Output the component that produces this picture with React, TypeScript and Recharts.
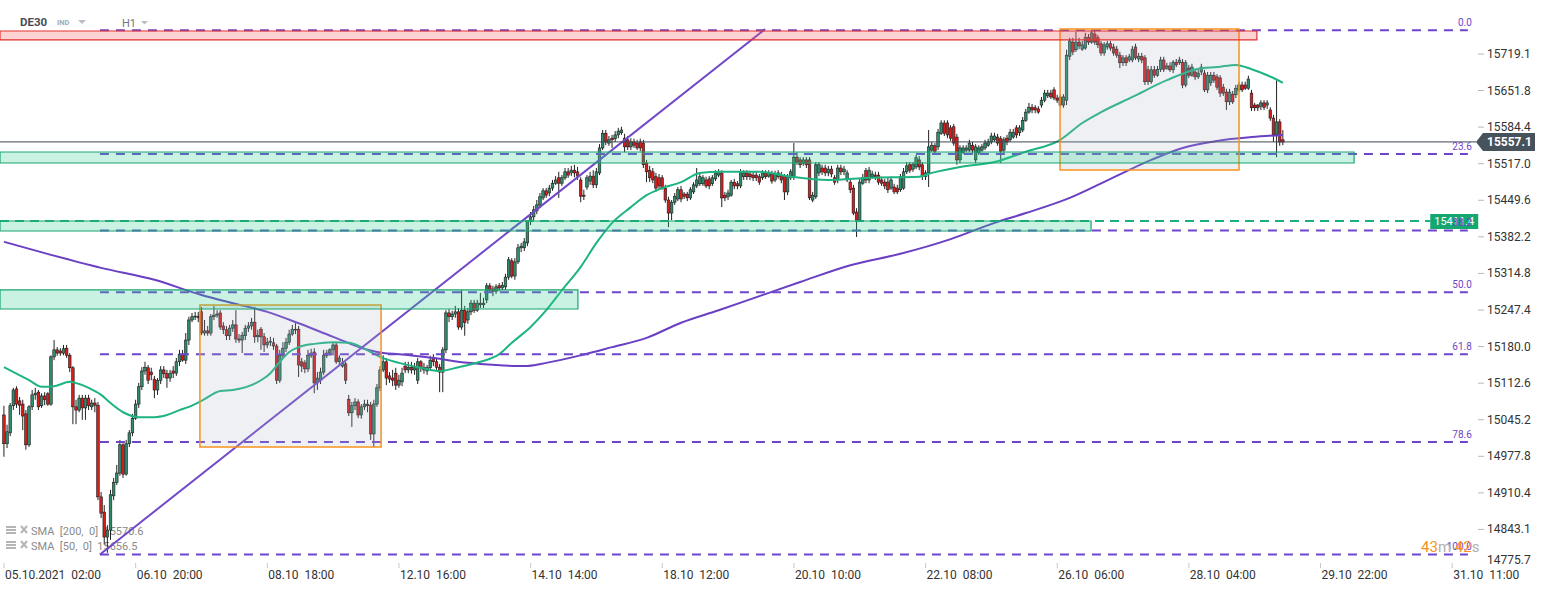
import React from 'react';
import { ComposedChart, Bar, Line, XAxis, YAxis, ReferenceLine, ReferenceArea } from 'recharts';

// ---------- candle data (hourly bars, DE30) ----------
const opens = [
15054,15001,15021,15071,15102,15080,15074,15056,14999,15069,15091,15096,15071,15089,15093,15074,15161,15174,15172,15168,
15177,15164,15141,15069,15063,15085,15067,15085,15069,15076,15072,14903,14875,14829,14842,14905,14930,14947,14999,14945,
15001,15021,15048,15074,15106,15135,15141,15133,15120,15100,15118,15137,15130,15122,15135,15131,15152,15166,15155,15192,
15229,15235,15236,15244,15205,15209,15205,15235,15238,15242,15218,15211,15200,15214,15220,15194,15192,15200,15214,15218,
15225,15198,15212,15198,15183,15188,15187,15181,15118,15164,15177,15188,15203,15212,15212,15152,15150,15139,15164,15170,
15113,15118,15133,15164,15168,15174,15183,15152,15144,15148,15083,15058,15071,15078,15054,15069,15074,15072,15019,15074,
15104,15137,15152,15126,15122,15131,15109,15115,15144,15137,15142,15137,15118,15152,15142,15135,15141,15159,15152,15142,
15133,15174,15242,15235,15240,15244,15216,15247,15229,15244,15260,15247,15260,15257,15266,15292,15286,15282,15292,15288,
15290,15308,15338,15310,15336,15362,15362,15371,15410,15419,15430,15441,15454,15467,15463,15472,15481,15491,15481,15491,
15502,15500,15505,15502,15487,15459,15474,15485,15494,15478,15500,15546,15573,15555,15564,15563,15570,15574,15564,15561,
15548,15557,15555,15557,15555,15518,15505,15502,15493,15491,15491,15472,15450,15426,15446,15452,15469,15461,15461,15454,
15465,15476,15480,15480,15487,15489,15480,15489,15496,15500,15459,15456,15459,15483,15480,15476,15493,15500,15498,15496,
15496,15493,15491,15500,15494,15498,15487,15493,15496,15493,15465,15491,15493,15529,15524,15518,15524,15524,15450,15456,
15500,15509,15509,15500,15507,15491,15487,15509,15502,15487,15483,15472,15428,15413,15481,15504,15487,15493,15496,15496,
15487,15483,15483,15472,15474,15472,15469,15472,15502,15515,15507,15511,15524,15515,15493,15500,15542,15550,15548,15573,
15592,15592,15583,15585,15566,15524,15538,15542,15542,15551,15524,15537,15542,15546,15551,15557,15561,15566,15563,15542,
15564,15561,15566,15583,15574,15579,15597,15612,15621,15620,15618,15625,15634,15642,15647,15653,15638,15640,15625,15634,
15715,15741,15727,15741,15728,15730,15750,15741,15756,15749,15738,15721,15732,15738,15732,15728,15717,15703,15712,15708,
15708,15732,15710,15715,15712,15690,15668,15690,15680,15691,15708,15693,15697,15690,15704,15703,15704,15662,15693,15680,
15686,15677,15686,15684,15653,15666,15680,15677,15675,15658,15649,15631,15645,15644,15653,15662,15662,15656,15647,15625,
15625,15623,15629,15625,15616,15601,15570,15594,15561
];
const highs = [
15071,15036,15076,15104,15107,15087,15082,15063,15072,15100,15104,15100,15094,15096,15096,15164,15192,15179,15177,15183,
15183,15168,15144,15082,15091,15091,15091,15091,15082,15085,15078,14912,14888,14851,14916,14938,14962,15008,15002,15008,
15026,15056,15082,15113,15142,15152,15146,15141,15126,15122,15144,15144,15137,15137,15144,15159,15174,15174,15205,15235,
15242,15244,15244,15253,15229,15218,15240,15255,15247,15247,15225,15218,15220,15229,15247,15203,15207,15220,15225,15233,
15253,15211,15216,15205,15196,15198,15196,15185,15174,15188,15196,15211,15220,15224,15218,15159,15155,15174,15176,15177,
15133,15141,15174,15174,15177,15188,15188,15164,15159,15152,15091,15078,15085,15083,15074,15082,15082,15078,15082,15111,
15144,15164,15159,15133,15137,15141,15128,15141,15152,15152,15152,15150,15159,15155,15150,15146,15163,15166,15159,15148,
15179,15247,15249,15246,15255,15251,15284,15255,15251,15266,15266,15266,15279,15270,15297,15297,15292,15295,15297,15299,
15314,15345,15343,15343,15369,15371,15380,15413,15428,15439,15450,15463,15472,15472,15478,15487,15494,15502,15496,15509,
15509,15513,15515,15511,15492,15469,15496,15502,15505,15509,15553,15579,15579,15568,15570,15577,15583,15585,15572,15568,
15564,15563,15561,15563,15561,15524,15513,15509,15500,15498,15496,15478,15456,15450,15463,15474,15476,15465,15465,15474,
15483,15509,15498,15496,15493,15494,15496,15505,15507,15505,15465,15469,15487,15489,15485,15507,15505,15505,15504,15502,
15502,15498,15505,15505,15505,15504,15504,15505,15502,15498,15498,15507,15555,15538,15529,15529,15529,15529,15465,15520,
15520,15515,15515,15513,15513,15496,15515,15515,15513,15505,15489,15478,15435,15491,15498,15509,15511,15504,15502,15502,
15493,15489,15491,15493,15480,15478,15498,15509,15520,15520,15520,15533,15531,15520,15505,15579,15557,15555,15581,15597,
15597,15597,15588,15590,15572,15551,15551,15551,15561,15557,15553,15551,15553,15561,15563,15574,15574,15572,15568,15566,
15570,15581,15581,15588,15588,15603,15618,15629,15627,15625,15623,15640,15653,15653,15653,15658,15644,15645,15645,15727,
15749,15749,15760,15749,15743,15758,15756,15763,15763,15754,15743,15741,15743,15743,15738,15734,15723,15717,15717,15719,
15734,15738,15721,15721,15717,15697,15697,15697,15697,15714,15714,15703,15704,15708,15710,15714,15710,15708,15699,15701,
15691,15690,15701,15690,15686,15686,15686,15682,15680,15664,15655,15655,15651,15662,15668,15668,15668,15679,15653,15629,
15627,15634,15634,15634,15621,15607,15671,15599,15579
];
const lows = [
14977,14993,15015,15063,15067,15054,15026,14990,14995,15063,15082,15063,15067,15072,15071,15071,15155,15163,15163,15164,
15159,15133,15037,15037,15059,15045,15045,15063,15063,15059,14897,14864,14815,14800,14824,14897,14925,14942,14938,14942,
14995,15015,15045,15067,15100,15128,15111,15118,15085,15091,15111,15122,15104,15115,15122,15126,15144,15152,15148,15183,
15225,15229,15225,15201,15200,15200,15200,15229,15233,15211,15203,15192,15192,15207,15187,15187,15168,15192,15207,15211,
15187,15188,15174,15170,15177,15181,15174,15111,15113,15159,15170,15183,15200,15203,15124,15133,15131,15133,15159,15094,
15100,15111,15128,15159,15163,15164,15148,15144,15141,15111,15052,15032,15063,15048,15047,15063,15059,15008,14995,15069,
15098,15133,15109,15113,15107,15100,15104,15107,15131,15131,15130,15128,15111,15133,15130,15128,15137,15144,15137,15096,
15096,15168,15225,15229,15233,15211,15211,15200,15222,15238,15242,15244,15251,15251,15260,15279,15273,15277,15282,15284,
15284,15303,15306,15303,15332,15354,15356,15365,15404,15413,15424,15435,15450,15454,15457,15467,15478,15454,15476,15487,
15491,15494,15492,15487,15446,15450,15469,15478,15472,15472,15496,15542,15551,15550,15546,15557,15564,15570,15538,15542,
15542,15546,15542,15540,15509,15483,15483,15481,15465,15469,15469,15445,15400,15413,15441,15448,15446,15452,15448,15450,
15461,15472,15476,15476,15472,15470,15476,15485,15492,15437,15448,15450,15456,15470,15470,15472,15487,15487,15487,15485,
15485,15478,15487,15489,15491,15480,15483,15489,15481,15450,15459,15487,15487,15515,15509,15513,15509,15450,15446,15452,
15494,15496,15494,15494,15492,15478,15481,15496,15496,15483,15463,15422,15382,15410,15478,15481,15481,15489,15487,15478,
15476,15470,15463,15469,15461,15461,15465,15469,15498,15500,15502,15507,15505,15487,15487,15474,15539,15535,15542,15570,
15568,15564,15559,15550,15515,15518,15535,15539,15539,15537,15518,15533,15539,15542,15548,15553,15557,15550,15518,15537,
15551,15557,15563,15564,15568,15575,15594,15609,15610,15610,15609,15620,15630,15638,15636,15634,15629,15621,15620,15625,
15708,15717,15723,15728,15725,15727,15736,15738,15736,15730,15716,15716,15727,15725,15716,15712,15693,15697,15697,15704,
15704,15708,15704,15702,15662,15662,15664,15675,15677,15686,15686,15690,15686,15684,15695,15699,15656,15658,15675,15677,
15671,15673,15680,15649,15647,15660,15666,15653,15640,15642,15616,15625,15627,15638,15649,15649,15653,15653,15614,15614,
15614,15616,15616,15618,15596,15557,15529,15550,15551
];
const closes = [
15001,15023,15071,15100,15074,15072,15052,14999,15069,15091,15094,15069,15089,15082,15074,15161,15174,15168,15168,15176,
15164,15141,15069,15063,15085,15067,15085,15071,15076,15072,14903,14873,14829,14842,14907,14930,14947,14999,14945,15001,
15021,15048,15074,15106,15135,15142,15118,15128,15100,15118,15137,15130,15122,15131,15131,15152,15166,15155,15192,15229,
15235,15236,15233,15205,15209,15205,15235,15238,15240,15216,15211,15200,15214,15220,15194,15192,15201,15214,15218,15225,
15198,15201,15198,15183,15188,15190,15181,15118,15164,15177,15188,15203,15212,15211,15146,15144,15139,15164,15168,15113,
15122,15133,15164,15168,15174,15183,15152,15159,15150,15118,15058,15071,15078,15054,15069,15074,15071,15019,15074,15104,
15137,15152,15122,15120,15118,15109,15118,15131,15137,15142,15137,15141,15152,15141,15137,15141,15155,15152,15142,15133,
15174,15242,15235,15240,15244,15216,15247,15224,15244,15260,15247,15260,15257,15260,15292,15284,15282,15290,15288,15293,
15308,15340,15310,15336,15362,15365,15373,15410,15419,15432,15441,15456,15467,15459,15472,15481,15487,15481,15491,15502,
15496,15505,15500,15494,15457,15457,15491,15494,15478,15502,15546,15573,15557,15561,15561,15570,15577,15579,15548,15548,
15557,15551,15546,15546,15515,15502,15491,15487,15472,15476,15472,15450,15426,15446,15457,15469,15452,15457,15454,15469,
15478,15487,15493,15491,15476,15476,15491,15500,15502,15454,15454,15463,15483,15476,15476,15502,15500,15493,15493,15491,
15491,15483,15500,15493,15500,15485,15498,15500,15487,15465,15493,15502,15529,15520,15515,15524,15515,15454,15459,15515,
15515,15502,15500,15507,15498,15483,15509,15502,15507,15500,15469,15426,15413,15483,15491,15487,15505,15498,15493,15483,
15481,15476,15469,15487,15465,15465,15493,15502,15513,15505,15515,15528,15511,15493,15500,15548,15551,15540,15575,15592,
15573,15570,15564,15555,15524,15546,15546,15546,15555,15542,15548,15546,15548,15555,15557,15568,15568,15555,15540,15561,
15557,15575,15575,15570,15583,15597,15612,15621,15616,15616,15612,15634,15647,15647,15640,15638,15634,15625,15640,15717,
15743,15723,15741,15734,15736,15750,15741,15758,15741,15736,15721,15736,15738,15730,15721,15717,15703,15712,15703,15714,
15728,15712,15715,15708,15668,15668,15690,15680,15691,15708,15691,15697,15690,15704,15699,15708,15662,15703,15680,15695,
15677,15684,15695,15653,15680,15680,15671,15658,15647,15647,15631,15649,15631,15656,15662,15653,15656,15673,15620,15620,
15620,15629,15621,15629,15601,15570,15594,15557,15557.1
];

// ---------- moving averages (read at sample bars) ----------
const sma50Bars = [0,8,12,16,21,24,27,31,34,38,43,48,52,56,59,63,69,73,82,85,88,91,94,99,105,110,114,117,120,126,133,139,145,152,158,162,168,173,178,184,189,194,200,205,210,216,222,228,241,251,263,276,292,296,305,316,326,337,344,350,360,371,382,387,393,398,403,408];
const sma50Values = [15142,15118,15106,15107,15115,15111,15104,15091,15076,15059,15050,15050,15054,15063,15069,15080,15098,15100,15118,15131,15152,15170,15179,15185,15188,15187,15179,15170,15161,15150,15141,15135,15142,15152,15166,15187,15216,15247,15284,15327,15371,15408,15437,15459,15472,15483,15500,15502,15502,15493,15487,15491,15493,15500,15511,15520,15539,15561,15592,15612,15640,15671,15693,15695,15699,15691,15680,15666];
const sma200Bars = [0,15,31,48,63,73,84,94,105,116,121,126,137,148,157,166,173,184,194,205,216,228,241,254,270,286,302,316,326,340,353,366,376,387,398,408];
const sma200Values = [15373,15349,15325,15303,15275,15260,15244,15223,15198,15174,15168,15166,15159,15150,15146,15144,15150,15164,15179,15196,15224,15247,15273,15299,15330,15351,15378,15408,15426,15454,15489,15524,15546,15559,15566,15570];

// ---------- axes ----------
const timeTickBars = [0,42,84,126,168,210,252,294,336,378,420,462];
const timeTickLabels = ['05.10.2021  02:00','06.10  20:00','08.10  18:00','12.10  16:00','14.10  14:00','18.10  12:00','20.10  10:00','22.10  08:00','26.10  06:00','28.10  04:00','29.10  22:00','31.10  11:00'];
const priceTicks = [14775.7,14843.1,14910.4,14977.8,15045.2,15112.6,15180.0,15247.4,15314.8,15382.2,15449.6,15517.0,15584.4,15651.8,15719.1];
const X_MIN = -1.276;
const X_MAX = 469.6;
const Y_MIN = 14775.7;
const Y_MAX = 15818.6;

// ---------- drawings ----------
const fibRatios = ['0.0','23.6','38.2','50.0','61.8','78.6','100.0'];
const fibPrices = [15763,15535,15394,15280,15166,15004,14797];
const fibStartBar = 30.6;
const fibEndBar = 467;
const trendBars = [30.6, 242.8];
const trendPrices = [14797, 15765];
const zoneKinds = ['red','green','green','green'];
const zoneEndBars = [399.7, 430.7, 346.8, 183.1];
const zoneTops = [15761.5, 15538.5, 15411.4, 15284.3];
const zoneBottoms = [15745, 15518.3, 15393, 15249.2];
const boxStartBars = [62.5, 336.9];
const boxEndBars = [120.3, 394];
const boxTops = [15256.6, 15765.2];
const boxBottoms = [14995, 15505.4];
const greenLevel = 15411.4;
const greenLevelEndBar = 455;
const lastPrice = 15557.1;
const legendTexts = ['SMA  [200,  0]  15570.6', 'SMA  [50,  0]  15656.5'];

const rows = closes.map((c, i) => ({
  i,
  o: opens[i],
  h: highs[i],
  l: lows[i],
  c,
  range: [lows[i], highs[i]],
  sma50: null as number | null,
  sma200: null as number | null,
}));
sma50Bars.forEach((b, k) => { if (rows[b]) rows[b].sma50 = sma50Values[k]; });
sma200Bars.forEach((b, k) => { if (rows[b]) rows[b].sma200 = sma200Values[k]; });

const FONT = 'Roboto, "Noto Sans", sans-serif';
const PURPLE = '#6d45c8';

const Candle = (props: any) => {
  const { x, y, width, height, payload } = props;
  if (!payload || x == null || y == null) return null;
  const top0 = Math.min(y, y + height);
  const hh = Math.abs(height);
  const { o, c, h, l } = payload;
  const cx = x + width / 2;
  const ratio = h - l > 0 ? hh / (h - l) : 0;
  const bt = top0 + (h - Math.max(o, c)) * ratio;
  const bb = top0 + (h - Math.min(o, c)) * ratio;
  const up = c >= o;
  return (
    <g>
      <line x1={cx} x2={cx} y1={top0} y2={top0 + hh} stroke="#222" strokeWidth={1} />
      <rect x={cx - 1.3} y={bt} width={2.6} height={Math.max(bb - bt, 0.8)} fill={up ? '#2f8c6e' : '#d81d1d'} stroke="#1c1c1c" strokeWidth={0.6} />
    </g>
  );
};

const PriceTick = (p: any) => {
  const { x, y, payload } = p;
  const ty = Math.min(y, 560);
  return (
    <g>
      {y < 562 && <line x1={x + 2} x2={x + 8} y1={y} y2={y} stroke="#b8b8b8" strokeWidth={1} />}
      <text x={x + 11} y={ty + 4} fontSize={12} fill="#333" fontFamily={FONT}>{Number(payload.value).toFixed(1)}</text>
    </g>
  );
};

const TimeTick = (p: any) => {
  const { x, y, payload } = p;
  const idx = timeTickBars.indexOf(payload.value);
  return (
    <g>
      <line x1={x} x2={x} y1={y - 3} y2={y + 2} stroke="#c8c8c8" strokeWidth={1} />
      <text x={x + 1} y={y + 13} fontSize={12} fill="#333" fontFamily={FONT} style={{ whiteSpace: 'pre' }}>{idx >= 0 ? timeTickLabels[idx] : ''}</text>
    </g>
  );
};

const fibLabel = (text: string) => (props: any) => {
  const vb = props.viewBox || {};
  const xr = (vb.x ?? 0) + (vb.width ?? 0);
  return (
    <text x={xr + 4} y={(vb.y ?? 0) - 4} textAnchor="end" fontSize={10} fill={PURPLE} fontFamily={FONT}>{text}</text>
  );
};

const greenLabel = (props: any) => {
  const vb = props.viewBox || {};
  const xr = (vb.x ?? 0) + (vb.width ?? 0);
  const yy = vb.y ?? 0;
  return (
    <g>
      <rect x={xr} y={yy - 7} width={48} height={15} fill="#14a870" />
      <text x={xr + 4} y={yy + 4} fontSize={11} fill="#fff" fontFamily={FONT}>{greenLevel.toFixed(1)}</text>
    </g>
  );
};

const priceLabel = (props: any) => {
  const vb = props.viewBox || {};
  const xr = (vb.x ?? 0) + (vb.width ?? 0);
  const yy = vb.y ?? 0;
  const pts = `${xr},${yy} ${xr + 7},${yy - 9} ${xr + 59},${yy - 9} ${xr + 59},${yy + 9} ${xr + 7},${yy + 9}`;
  return (
    <g>
      <polygon points={pts} fill="#46525c" />
      <text x={xr + 11} y={yy + 4.5} fontSize={12} fontWeight={700} fill="#fff" fontFamily={FONT}>{lastPrice.toFixed(1)}</text>
    </g>
  );
};

export default function App() {
  return (
    <div style={{ position: 'absolute', left: 0, top: 0, width: 1546, height: 590, background: '#fff', overflow: 'hidden' }}>
      {/* header + legend (behind the chart) */}
      <svg width={1546} height={590} style={{ position: 'absolute', left: 0, top: 0, zIndex: 0 }}>
        <text x={20} y={26} fontSize={11.5} fontWeight={700} fill="#474d55" fontFamily={FONT}>DE30</text>
        <text x={57} y={25} fontSize={7.5} fontWeight={700} fill="#a3abb4" fontFamily={FONT}>IND</text>
        <polygon points="78,20 86,20 82,24" fill="#b8bec5" />
        <text x={122} y={27} fontSize={11} fill="#6f7780" fontFamily={FONT}>H1</text>
        <polygon points="141,21 148,21 144.5,24.5" fill="#b8bec5" />
        {legendTexts.map((t, k) => (
          <g key={t}>
            <rect x={6} y={526 + k * 15} width={10} height={2} fill="#b5b5b5" />
            <rect x={6} y={529 + k * 15} width={10} height={2} fill="#b5b5b5" />
            <rect x={6} y={532 + k * 15} width={10} height={2} fill="#b5b5b5" />
            <line x1={21} y1={526 + k * 15} x2={27} y2={533 + k * 15} stroke="#b5b5b5" strokeWidth={2} />
            <line x1={27} y1={526 + k * 15} x2={21} y2={533 + k * 15} stroke="#b5b5b5" strokeWidth={2} />
            <text x={31} y={535 + k * 15} fontSize={11} fill="#8a8a8a" fontFamily={FONT} style={{ whiteSpace: 'pre' }}>{t}</text>
          </g>
        ))}
      </svg>
      <div style={{ position: 'absolute', left: 0, top: 0, zIndex: 1 }}>
        <ComposedChart width={1546} height={590} data={rows} margin={{ top: 0, right: 0, bottom: 0, left: 0 }}>
          <XAxis
            dataKey="i"
            type="number"
            domain={[X_MIN, X_MAX]}
            ticks={timeTickBars}
            interval={0}
            allowDataOverflow
            axisLine={false}
            tickLine={false}
            tickSize={0}
            tickMargin={0}
            height={24}
            tick={<TimeTick />}
          />
          <YAxis
            orientation="right"
            type="number"
            domain={[Y_MIN, Y_MAX]}
            ticks={priceTicks}
            interval={0}
            allowDataOverflow
            axisLine={false}
            tickLine={false}
            tickSize={0}
            tickMargin={0}
            width={70}
            tick={<PriceTick />}
          />
          <Bar dataKey="range" barSize={3} shape={<Candle />} isAnimationActive={false} />
          <Line dataKey="sma200" type="monotone" stroke="#6a3fc4" strokeWidth={2} dot={false} activeDot={false} connectNulls isAnimationActive={false} />
          <Line dataKey="sma50" type="monotone" stroke="#1eb482" strokeWidth={2} dot={false} activeDot={false} connectNulls isAnimationActive={false} />
          <ReferenceLine
            segment={[{ x: trendBars[0], y: trendPrices[0] }, { x: trendBars[1], y: trendPrices[1] }]}
            stroke="#7048c9"
            strokeWidth={2}
            ifOverflow="visible"
          />
          <ReferenceLine y={lastPrice} stroke="#3d4852" strokeWidth={1} ifOverflow="visible" label={priceLabel} />
          <ReferenceLine
            segment={[{ x: X_MIN, y: greenLevel }, { x: greenLevelEndBar, y: greenLevel }]}
            stroke="#17b27c"
            strokeWidth={2}
            strokeDasharray="9 6"
            ifOverflow="visible"
            label={greenLabel}
          />
          {fibPrices.map((p, k) => (
            <ReferenceLine
              key={fibRatios[k]}
              segment={[{ x: fibStartBar, y: p }, { x: fibEndBar, y: p }]}
              stroke={PURPLE}
              strokeWidth={2}
              strokeDasharray="9 7"
              ifOverflow="visible"
              label={fibLabel(fibRatios[k])}
            />
          ))}
          {boxStartBars.map((b, k) => (
            <ReferenceArea
              key={'box' + k}
              x1={b}
              x2={boxEndBars[k]}
              y1={boxBottoms[k]}
              y2={boxTops[k]}
              fill="#a9b6c6"
              fillOpacity={0.2}
              stroke="#f7931e"
              strokeWidth={1.5}
              strokeOpacity={1}
              ifOverflow="visible"
              {...({ zIndex: 1500 } as any)}
            />
          ))}
          {zoneKinds.map((kind, k) => (
            <ReferenceArea
              key={'zone' + k}
              x1={X_MIN}
              x2={zoneEndBars[k]}
              y1={zoneBottoms[k]}
              y2={zoneTops[k]}
              fill={kind === 'red' ? '#ff5555' : '#2ecc8f'}
              fillOpacity={0.26}
              stroke={kind === 'red' ? '#e23232' : '#1aa46f'}
              strokeWidth={1.2}
              strokeOpacity={1}
              ifOverflow="visible"
              {...({ zIndex: 1500 } as any)}
            />
          ))}
        </ComposedChart>
      </div>
      {/* countdown watermark */}
      <svg width={1546} height={590} style={{ position: 'absolute', left: 0, top: 0, zIndex: 2, pointerEvents: 'none' }}>
        <text x={1421} y={552} fontSize={15} fontFamily={FONT}>
          <tspan fill="#f7931e">43</tspan>
          <tspan fill="#b0b0b0">m </tspan>
          <tspan fill="#f7931e">42</tspan>
          <tspan fill="#b0b0b0">s</tspan>
        </text>
      </svg>
    </div>
  );
}
